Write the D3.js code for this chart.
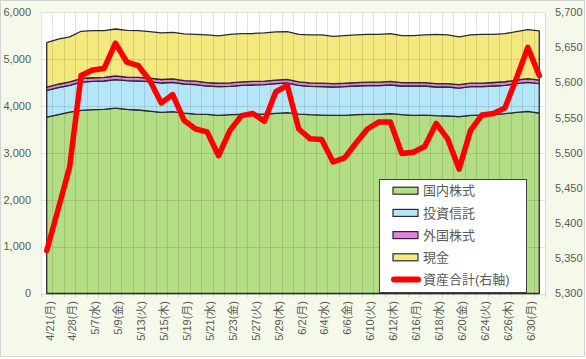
<!DOCTYPE html>
<html><head><meta charset="utf-8">
<script src="https://cdn.jsdelivr.net/npm/d3@7/dist/d3.min.js"></script>
<style>
html,body{margin:0;padding:0;background:#fff;}
svg text{font-family:"Liberation Sans","Noto Sans CJK JP",Arial,sans-serif;}
</style></head>
<body>
<svg id="chart" width="586" height="359"></svg>
<script>
const dates = ["4/21(月)","4/24(木)","4/28(月)","5/1(木)","5/7(水)","5/8(木)","5/9(金)","5/12(月)","5/13(火)","5/14(水)","5/15(木)","5/16(金)","5/19(月)","5/20(火)","5/21(水)","5/22(木)","5/23(金)","5/26(月)","5/27(火)","5/28(水)","5/29(木)","5/30(金)","6/2(月)","6/3(火)","6/4(水)","6/5(木)","6/6(金)","6/9(月)","6/10(火)","6/11(水)","6/12(木)","6/13(金)","6/16(月)","6/17(火)","6/18(水)","6/19(木)","6/20(金)","6/23(月)","6/24(火)","6/25(水)","6/26(木)","6/27(金)","6/30(月)","7/1(火)"];
const domestic = [3765,3818,3871,3908,3922,3929,3957,3929,3915,3893,3865,3880,3850,3829,3822,3801,3815,3822,3829,3829,3844,3858,3829,3815,3808,3801,3801,3815,3822,3822,3836,3815,3801,3808,3794,3787,3773,3801,3808,3815,3836,3865,3886,3850];
const funds = [570,575,571,604,605,605,606,612,619,627,626,626,620,627,605,612,605,620,620,627,633,633,613,605,605,605,612,612,612,612,613,612,626,619,612,619,611,612,605,612,606,612,620,627];
const foreign = [70,72,73,75,76,76,78,77,77,76,75,75,74,74,74,73,74,75,75,75,76,77,75,74,74,73,73,74,75,75,75,74,74,74,74,74,73,74,74,75,76,77,78,77];
const cash = [948,962,959,1008,1006,999,1003,998,998,992,993,992,994,1001,1016,1009,1037,1028,1024,1028,1028,1020,1014,1023,1030,1009,1016,1016,1022,1022,1021,1001,1001,1016,1051,1037,1017,1030,1044,1029,1027,1034,1046,1048];
const total = [5361,5420,5480,5610,5618,5620,5656,5629,5624,5603,5571,5583,5546,5534,5530,5496,5532,5553,5556,5545,5587,5596,5534,5520,5519,5487,5493,5514,5534,5544,5544,5499,5501,5509,5542,5520,5477,5532,5554,5556,5564,5606,5650,5610];
const leftTicks = [0,1000,2000,3000,4000,5000,6000];
const rightTicks = [5300,5350,5400,5450,5500,5550,5600,5650,5700];
const seriesNames = ["国内株式","投資信託","外国株式","現金"];
const lineName = "資産合計(右軸)";
const colors = ["#b4de86","#b5e6f7","#e77fe0","#f4e97e"];

const svg = d3.select("#chart");
const X0=41, X1=545, Y0=12.3, Y1=293.5;
const n = dates.length;
const x = d3.scaleBand().domain(d3.range(n)).range([X0,X1]).padding(0);
const bw = x.bandwidth();
const cx = i => x(i)+bw/2;
const yL = d3.scaleLinear().domain([0,6000]).range([Y1,Y0]);
const yR = d3.scaleLinear().domain([5300,5700]).range([Y1,Y0]);

// outer background
svg.append("rect").attr("x",0.5).attr("y",0.5).attr("width",584).attr("height",356)
  .attr("fill","#f4f9e9").attr("stroke","#d4d4d4");
// plot area
svg.append("rect").attr("x",X0).attr("y",Y0).attr("width",X1-X0).attr("height",Y1-Y0).attr("fill","#fff");

// stacked areas
const rows = d3.range(n).map(i=>({i, a:domestic[i], b:funds[i], c:foreign[i], d:cash[i]}));
const stack = d3.stack().keys(["a","b","c","d"])(rows);
const area = d3.area().x(d=>cx(d.data.i)).y0(d=>yL(d[0])).y1(d=>yL(d[1]));
svg.append("g").selectAll("path").data(stack).join("path")
  .attr("d",area).attr("fill",(d,k)=>colors[k]).attr("stroke","#2b2b2b").attr("stroke-width",1.3)
  .attr("stroke-linejoin","round");

// grid lines (drawn over areas, translucent)
const grid = svg.append("g").attr("stroke","#000").attr("stroke-opacity",0.11).attr("stroke-width",1);
d3.range(n+1).forEach(i=>{
  const gx = Math.round(i<n ? x(i) : X1)+0.5;
  grid.append("line").attr("x1",gx).attr("x2",gx).attr("y1",Y0).attr("y2",Y1+4);
});
leftTicks.forEach(t=>{
  const gy = Math.round(yL(t))+0.5;
  grid.append("line").attr("x1",X0).attr("x2",X1).attr("y1",gy).attr("y2",gy);
});

// total line
svg.append("path").datum(total)
  .attr("d", d3.line().x((d,i)=>cx(i)).y(d=>yR(d)))
  .attr("fill","none").attr("stroke","#ff0000").attr("stroke-width",5.5)
  .attr("stroke-linejoin","round").attr("stroke-linecap","round");

// left axis labels
svg.append("g").selectAll("text").data(leftTicks).join("text")
  .attr("x",31).attr("y",d=>yL(d)).attr("dy","0.35em").attr("text-anchor","end")
  .attr("font-size",11).attr("fill","#595959").text(d3.format(","));
// right axis labels
svg.append("g").selectAll("text").data(rightTicks).join("text")
  .attr("x",555).attr("y",d=>yR(d)).attr("dy","0.35em").attr("text-anchor","start")
  .attr("font-size",11).attr("fill","#595959").text(d3.format(","));

// x labels
svg.append("g").selectAll("text").data(d3.range(0,n,2)).join("text")
  .attr("transform",i=>`translate(${cx(i)+3},301) rotate(-90)`)
  .attr("text-anchor","end").attr("dy","0.35em")
  .attr("font-size",11).attr("fill","#595959").text(i=>dates[i]);

// legend
const lg = svg.append("g");
lg.append("rect").attr("x",379.5).attr("y",179.5).attr("width",147).attr("height",113)
  .attr("fill","#fff").attr("stroke","#404040").attr("stroke-width",1);
const ly = k => 190.7 + k*22.2;
seriesNames.forEach((name,k)=>{
  lg.append("rect").attr("x",393).attr("y",ly(k)-3.5).attr("width",25).attr("height",7)
    .attr("fill",colors[k]).attr("stroke","#2b2b2b").attr("stroke-width",1.2);
  lg.append("text").attr("x",423).attr("y",ly(k)).attr("dy","0.36em")
    .attr("font-size",13).attr("fill","#595959").text(name);
});
lg.append("line").attr("x1",394).attr("x2",418).attr("y1",ly(4)).attr("y2",ly(4))
  .attr("stroke","#ff0000").attr("stroke-width",6).attr("stroke-linecap","round");
lg.append("text").attr("x",423).attr("y",ly(4)).attr("dy","0.36em")
  .attr("font-size",13).attr("fill","#595959").text(lineName);
</script>
</body></html>
